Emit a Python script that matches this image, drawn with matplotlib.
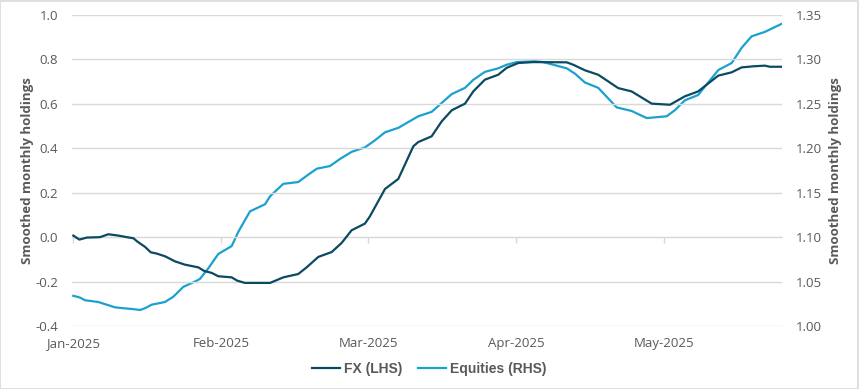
import matplotlib
matplotlib.use("Agg")
import matplotlib.pyplot as plt
from matplotlib.patches import Rectangle

# Category positions measured in months from Jan-2025 (equally spaced category axis)
month_labels = ["Jan-2025", "Feb-2025", "Mar-2025", "Apr-2025", "May-2025"]
month_pos = [0, 1, 2, 3, 4]

fx_x = [0.000, 0.041, 0.091, 0.181, 0.237, 0.305, 0.362, 0.407, 0.434, 0.486,
        0.524, 0.565, 0.621, 0.689, 0.757, 0.847, 0.886, 0.938, 0.982, 1.073,
        1.111, 1.163, 1.333, 1.423, 1.524, 1.581, 1.660, 1.751, 1.818, 1.886,
        1.976, 2.010, 2.112, 2.202, 2.304, 2.337, 2.428, 2.496, 2.564, 2.654,
        2.710, 2.789, 2.879, 2.936, 3.015, 3.117, 3.343, 3.388, 3.467, 3.557,
        3.692, 3.783, 3.919, 4.043, 4.144, 4.234, 4.291, 4.370, 4.461, 4.528,
        4.607, 4.686, 4.720, 4.799]
fx_y = [0.007, -0.011, -0.002, 0.000, 0.013, 0.007, 0.000, -0.005, -0.020, -0.044,
        -0.068, -0.074, -0.086, -0.109, -0.124, -0.136, -0.152, -0.161, -0.176, -0.181,
        -0.196, -0.206, -0.206, -0.181, -0.166, -0.136, -0.089, -0.067, -0.026, 0.031,
        0.061, 0.094, 0.217, 0.262, 0.409, 0.428, 0.454, 0.521, 0.571, 0.601,
        0.656, 0.709, 0.731, 0.762, 0.784, 0.788, 0.787, 0.776, 0.751, 0.731,
        0.671, 0.656, 0.601, 0.596, 0.634, 0.656, 0.686, 0.727, 0.742, 0.764,
        0.769, 0.772, 0.767, 0.767]

eq_x = [0.000, 0.045, 0.079, 0.169, 0.226, 0.283, 0.339, 0.407, 0.452, 0.486,
        0.531, 0.621, 0.678, 0.745, 0.836, 0.858, 0.915, 0.982, 1.073, 1.118,
        1.197, 1.299, 1.333, 1.423, 1.524, 1.581, 1.649, 1.739, 1.807, 1.886,
        1.976, 2.044, 2.112, 2.202, 2.337, 2.428, 2.496, 2.564, 2.654, 2.710,
        2.789, 2.879, 2.936, 3.004, 3.129, 3.184, 3.275, 3.343, 3.399, 3.467,
        3.557, 3.682, 3.783, 3.885, 4.020, 4.077, 4.144, 4.234, 4.370, 4.461,
        4.528, 4.596, 4.686, 4.799]
eq_y = [1.034, 1.032, 1.029, 1.027, 1.024, 1.021, 1.020, 1.019, 1.018, 1.020,
        1.024, 1.027, 1.033, 1.044, 1.051, 1.053, 1.065, 1.081, 1.090, 1.106,
        1.129, 1.137, 1.146, 1.160, 1.162, 1.169, 1.177, 1.180, 1.188, 1.196,
        1.201, 1.209, 1.218, 1.223, 1.236, 1.241, 1.251, 1.261, 1.268, 1.277,
        1.286, 1.290, 1.294, 1.297, 1.298, 1.297, 1.293, 1.290, 1.284, 1.274,
        1.268, 1.246, 1.242, 1.234, 1.236, 1.243, 1.254, 1.260, 1.288, 1.296,
        1.313, 1.326, 1.331, 1.340]

left_ticks = [-0.4, -0.2, 0.0, 0.2, 0.4, 0.6, 0.8, 1.0]
right_ticks = [1.00, 1.05, 1.10, 1.15, 1.20, 1.25, 1.30, 1.35]

FX_COLOR = "#0b4a60"
EQ_COLOR = "#1ba1d0"
GRID = "#d9d9d9"
TXT = "#595959"
FONT = ["Open Sans", "DejaVu Sans"]

W, H = 859, 389
fig = plt.figure(figsize=(W / 100, H / 100), dpi=100)
fig.patch.set_facecolor("white")
fig.patches.append(Rectangle((0.0005, 0.0012), 0.998, 0.997, transform=fig.transFigure,
                             fill=False, edgecolor=GRID, linewidth=1.2))

L, R, T, B = 72, 782, 15, 326
ax = fig.add_axes([L / W, 1 - B / H, (R - L) / W, (B - T) / H])
ax2 = ax.twinx()

ax.set_ylim(-0.4, 1.0)
ax2.set_ylim(1.00, 1.35)
ax.set_xlim(-0.009, 4.802)

ax.set_yticks(left_ticks)
ax.set_yticklabels([f"{v:.1f}" for v in left_ticks])
ax2.set_yticks(right_ticks)
ax2.set_yticklabels([f"{v:.2f}" for v in right_ticks])

ax.grid(axis="y", color=GRID, linewidth=1.0)
ax.set_axisbelow(True)
for a in (ax, ax2):
    for s in a.spines.values():
        s.set_visible(False)
    a.tick_params(axis="y", length=0, labelsize=9.5, labelcolor=TXT)
ax.tick_params(axis="y", pad=10)
ax2.tick_params(axis="y", pad=10)

ax.set_xticks(month_pos)
ax.set_xticklabels(month_labels)
ax.tick_params(axis="x", length=0, labelsize=9.5, labelcolor=TXT, pad=8)

# axis line at zero with small tick marks
sec = ax.secondary_xaxis((0 - (-0.4)) / 1.4)
sec.set_xticks(month_pos)
sec.set_xticklabels([])
sec.tick_params(axis="x", direction="out", length=4, color=GRID, width=1.0)
sec.spines["bottom"].set_color(GRID)

for lab in ax.get_xticklabels() + ax.get_yticklabels() + ax2.get_yticklabels():
    lab.set_family(FONT)

l1, = ax.plot(fx_x, fx_y, color=FX_COLOR, linewidth=1.6, label="FX (LHS)", zorder=3)
l2, = ax2.plot(eq_x, eq_y, color=EQ_COLOR, linewidth=1.6, label="Equities (RHS)", zorder=2)
ax.set_zorder(ax2.get_zorder() + 1)
ax.patch.set_visible(False)

ax.set_ylabel("Smoothed monthly holdings", fontsize=9.5, fontweight="bold", color=TXT,
              family=FONT, va="center")
ax2.set_ylabel("Smoothed monthly holdings", fontsize=9.5, fontweight="bold", color=TXT,
               family=FONT, va="center", rotation=90)
ax.yaxis.set_label_coords((27 - L) / (R - L), 0.5)
ax2.yaxis.set_label_coords((836 - L) / (R - L), 0.5)

fig.legend(handles=[l1, l2], loc="center", bbox_to_anchor=(0.5, 1 - 369 / H), ncol=2,
           frameon=False, prop={"family": ["Liberation Sans", "DejaVu Sans"], "weight": "bold", "size": 10},
           labelcolor=TXT, handlelength=2.0, handletextpad=0.3, columnspacing=1.1)

fig.savefig("out.png", dpi=100)
